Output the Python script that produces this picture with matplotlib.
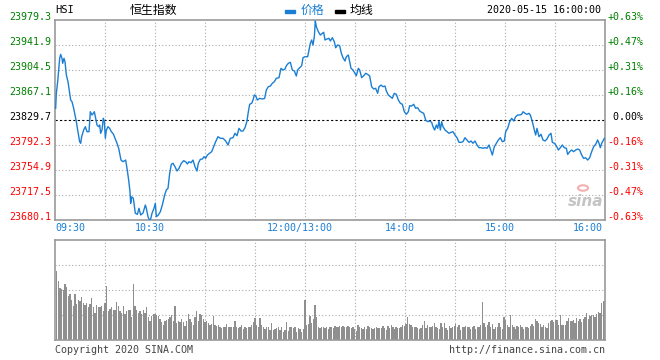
import numpy as np
import matplotlib
matplotlib.use('Agg')
import matplotlib.pyplot as plt
from matplotlib.patches import Rectangle, Circle
from matplotlib.transforms import offset_copy

plt.rcParams['font.family'] = ['DejaVu Sans Mono', 'Noto Sans CJK SC']
CJK = ['Noto Sans CJK SC', 'DejaVu Sans']

# HSI intraday 2020-05-15, minutes since 09:30 (lunch break removed: 150 = 12:00/13:00)
prev_close = 23829.7
minutes = [
    0.4, 0.8, 1.6, 2.2, 2.8, 3.4, 4.2, 4.6, 5.4, 6.0, 6.8, 7.8, 8.8, 9.4, 10.2, 11.2, 12.0, 12.8, 13.6, 14.8,
    15.4, 16.0, 17.2, 18.2, 19.2, 20.4, 21.2, 22.2, 23.0, 23.6, 24.4, 25.2, 26.2, 26.8, 27.4, 28.2, 29.0, 29.6, 30.2, 30.8,
    31.8, 32.8, 33.8, 35.0, 36.0, 37.2, 38.2, 39.0, 39.6, 40.8, 42.4, 43.2, 44.2, 45.0, 45.4, 46.0, 47.0, 48.2, 49.4, 50.4,
    51.4, 52.8, 54.2, 54.8, 55.8, 56.6, 57.4, 58.2, 59.4, 60.2, 60.8, 62.0, 63.2, 64.4, 65.8, 66.8, 67.8, 68.8, 69.8, 70.8,
    72.0, 73.2, 74.4, 75.8, 77.2, 78.4, 79.4, 80.4, 81.6, 82.8, 84.0, 85.2, 86.0, 87.2, 88.4, 89.4, 90.4, 91.4, 92.8, 94.0,
    95.2, 96.4, 97.8, 99.2, 100.8, 102.4, 103.8, 105.2, 106.8, 108.0, 109.2, 110.4, 111.6, 112.8, 114.0, 115.2, 116.0, 116.8, 118.0, 118.8,
    119.6, 120.4, 121.4, 122.8, 124.4, 125.8, 126.8, 128.0, 129.2, 130.4, 131.6, 132.8, 134.4, 135.6, 136.8, 138.0, 138.8, 140.0, 141.2, 142.4,
    143.6, 144.8, 145.6, 146.8, 148.0, 148.8, 150.0, 151.6, 152.4, 153.2, 154.0, 154.8, 155.6, 156.2, 156.8, 158.0, 159.2, 160.4, 161.2, 162.0,
    163.2, 164.4, 165.2, 166.4, 167.6, 168.4, 169.6, 170.8, 171.8, 172.8, 174.0, 174.8, 176.0, 176.8, 177.6, 178.8, 180.0, 180.8, 182.0, 182.8,
    184.0, 185.2, 186.4, 187.6, 188.8, 190.0, 191.2, 192.4, 193.6, 194.4, 195.6, 196.8, 198.0, 198.8, 200.0, 201.2, 202.4, 203.6, 204.8, 206.0,
    207.2, 208.4, 209.6, 210.8, 212.0, 212.8, 214.0, 215.2, 216.4, 217.6, 218.8, 220.0, 221.2, 222.4, 223.6, 224.8, 226.0, 226.8, 227.8, 228.8,
    229.6, 230.4, 231.2, 232.0, 232.8, 234.0, 235.2, 236.4, 237.6, 238.8, 240.0, 241.2, 242.4, 243.6, 244.8, 246.0, 247.2, 248.4, 249.6, 250.8,
    252.0, 253.2, 254.4, 255.6, 256.8, 258.0, 259.2, 260.4, 261.6, 262.4, 263.6, 264.8, 266.0, 267.2, 268.4, 269.6, 270.4, 271.6, 272.8, 274.0,
    275.2, 276.4, 277.6, 278.8, 280.0, 280.8, 282.0, 283.2, 284.4, 285.2, 286.4, 287.6, 288.4, 289.2, 290.4, 291.6, 292.8, 294.0, 295.2, 296.4,
    297.6, 298.4, 299.6, 300.8, 302.0, 303.2, 304.4, 305.6, 306.8, 307.6, 308.8, 310.0, 311.2, 312.4, 313.6, 314.8, 316.0, 317.2, 318.4, 319.6,
    320.8, 322.0, 323.2, 324.4, 325.6, 326.4, 327.2, 328.0, 328.8, 329.6,
]
price = [
    23847.2, 23869.6, 23887.0, 23904.5, 23921.9, 23927.9, 23921.9, 23914.5, 23921.9, 23916.9, 23897.0, 23887.0, 23869.6, 23859.6, 23857.1, 23847.2, 23837.2, 23827.2, 23814.7, 23797.3,
    23794.9, 23804.7, 23814.7, 23819.7, 23812.2, 23812.2, 23842.1, 23837.2, 23839.7, 23842.1, 23832.2, 23822.2, 23819.7, 23822.2, 23809.8, 23814.7, 23832.2, 23828.2, 23802.3, 23814.7,
    23819.7, 23817.2, 23812.2, 23808.7, 23802.3, 23794.9, 23787.4, 23777.3, 23769.8, 23767.3, 23769.8, 23757.4, 23739.9, 23722.4, 23705.1, 23714.9, 23712.5, 23690.1, 23688.6, 23697.6,
    23687.6, 23690.5, 23702.5, 23697.6, 23685.0, 23680.1, 23681.6, 23690.1, 23697.6, 23705.1, 23685.0, 23687.6, 23692.5, 23702.5, 23717.5, 23725.0, 23727.5, 23749.9, 23763.4, 23764.9,
    23759.8, 23753.4, 23757.4, 23764.9, 23768.8, 23767.3, 23763.9, 23767.3, 23765.8, 23769.8, 23759.8, 23753.4, 23764.9, 23770.9, 23771.3, 23774.8, 23772.4, 23777.3, 23779.9, 23782.3,
    23789.7, 23797.3, 23804.7, 23802.3, 23802.3, 23798.3, 23792.3, 23802.3, 23803.2, 23809.8, 23806.2, 23817.2, 23813.2, 23813.2, 23818.2, 23828.2, 23842.1, 23853.2, 23854.7, 23859.6,
    23867.1, 23866.0, 23859.6, 23862.1, 23861.1, 23862.1, 23874.6, 23879.5, 23880.5, 23884.6, 23887.0, 23892.1, 23893.0, 23907.0, 23904.5, 23906.0, 23910.9, 23914.5, 23916.0, 23904.5,
    23903.0, 23895.5, 23904.5, 23907.9, 23910.9, 23922.9, 23924.4, 23924.4, 23934.4, 23944.4, 23949.4, 23941.9, 23954.3, 23977.8, 23969.3, 23961.8, 23956.8, 23959.4, 23960.9, 23949.4,
    23950.9, 23951.9, 23947.9, 23952.8, 23946.8, 23937.8, 23941.9, 23940.8, 23929.5, 23922.9, 23917.9, 23924.4, 23926.9, 23916.9, 23907.0, 23904.5, 23899.5, 23895.9, 23907.0, 23904.5,
    23893.0, 23895.9, 23899.5, 23898.0, 23895.5, 23879.5, 23876.1, 23877.1, 23869.6, 23879.5, 23882.0, 23879.5, 23880.5, 23873.1, 23867.1, 23864.5, 23862.1, 23869.6, 23868.1, 23859.6,
    23854.7, 23853.2, 23842.1, 23838.2, 23842.1, 23851.1, 23850.6, 23853.2, 23847.2, 23848.1, 23843.1, 23841.2, 23839.7, 23829.7, 23827.2, 23828.2, 23826.2, 23819.7, 23814.7, 23822.2,
    23817.2, 23828.2, 23814.7, 23827.2, 23819.7, 23814.7, 23812.2, 23809.8, 23811.3, 23812.2, 23807.2, 23803.2, 23796.3, 23796.3, 23797.3, 23803.2, 23799.8, 23796.3, 23798.3, 23794.9,
    23798.3, 23792.3, 23788.3, 23788.3, 23787.4, 23788.3, 23787.4, 23792.3, 23783.3, 23777.3, 23789.7, 23794.9, 23799.8, 23803.2, 23797.3, 23798.3, 23812.2, 23817.2, 23827.2, 23832.2,
    23828.2, 23834.6, 23837.2, 23837.2, 23838.2, 23842.1, 23839.7, 23838.2, 23839.7, 23837.2, 23827.2, 23814.7, 23807.2, 23817.2, 23804.7, 23808.3, 23799.8, 23798.3, 23801.3, 23807.2,
    23809.8, 23796.3, 23794.9, 23791.2, 23784.8, 23788.3, 23792.3, 23788.3, 23787.4, 23778.3, 23782.3, 23784.8, 23782.3, 23784.8, 23786.3, 23784.8, 23777.3, 23772.3, 23773.2, 23769.8,
    23773.2, 23782.3, 23789.7, 23793.3, 23799.8, 23794.9, 23788.3, 23794.9, 23798.3, 23802.3,
]

# per-minute volume (relative units, 100 = panel top)
vol_am = [
    69, 59, 52, 51, 50, 56, 53, 44, 46, 40, 34, 46, 36, 40, 39, 43, 37, 35, 37, 33, 36, 42, 33, 27, 35, 33, 33, 34, 29, 37,
    54, 29, 31, 33, 30, 30, 38, 34, 29, 27, 34, 26, 29, 30, 30, 23, 56, 34, 30, 27, 29, 26, 30, 27, 33, 23, 19, 24, 26, 26,
    25, 24, 21, 18, 15, 19, 20, 21, 23, 25, 19, 34, 17, 19, 18, 21, 18, 14, 19, 26, 21, 18, 15, 23, 29, 19, 26, 25, 21, 18,
    19, 17, 15, 16, 24, 15, 14, 15, 13, 12, 13, 13, 16, 13, 13, 13, 13, 19, 13, 12, 13, 15, 11, 13, 12, 13, 13, 15, 18, 22,
    15, 13, 22, 15, 13, 11, 13, 13, 10, 17, 10, 11, 12, 13, 10, 13, 8, 10, 18, 9, 13, 13, 12, 13, 8, 12, 11, 8, 11,
]
vol_pm = [
    40, 15, 16, 24, 17, 21, 35, 23, 13, 12, 13, 13, 12, 13, 11,
    13, 13, 12, 14, 13, 13, 14, 13, 14, 13, 13, 14, 13, 12, 13, 11, 9, 15, 13, 12, 11, 13, 11, 14, 13, 12, 11, 12, 13, 12,
    12, 12, 14, 12, 10, 14, 12, 15, 13, 11, 13, 12, 12, 13, 15, 14, 16, 23, 16, 15, 13, 13, 13, 12, 11, 12, 15, 19, 12, 15,
    13, 13, 14, 17, 13, 12, 11, 17, 13, 17, 12, 10, 14, 12, 13, 14, 16, 13, 15, 10, 13, 13, 14, 13, 13, 11, 13, 14, 11, 13,
    13, 15, 38, 17, 13, 15, 18, 13, 16, 11, 13, 13, 17, 13, 11, 23, 20, 15, 13, 25, 15, 13, 11, 14, 13, 15, 13, 11, 13, 13,
    12, 14, 16, 14, 21, 19, 17, 16, 13, 15, 13, 12, 17, 19, 20, 18, 20, 20, 15, 25, 15, 15, 15, 19, 22, 19, 19, 20, 17, 22,
    19, 21, 18, 21, 23, 27, 21, 24, 25, 25, 23, 26, 28, 27, 37, 39, 39,
]

price_ticks = [23680.1, 23717.5, 23754.9, 23792.3, 23829.7, 23867.1, 23904.5, 23941.9, 23979.3]
pct_labels = ['-0.63%', '-0.47%', '-0.31%', '-0.16%', ' 0.00%', '+0.16%', '+0.31%', '+0.47%', '+0.63%']
time_ticks = [0, 60, 150, 210, 270, 330]
time_labels = ['09:30', '10:30', '12:00/13:00', '14:00', '15:00', '16:00']

BLUE = '#1a7fd4'
GRID = '#aaaaaa'
EDGE = '#999999'
W, H = 660, 360

fig = plt.figure(figsize=(W / 100, H / 100), dpi=100)
ax = fig.add_axes([55 / W, 140 / H, 550 / W, 200 / H])
axv = fig.add_axes([55 / W, 20 / H, 550 / W, 100 / H])

for a in (ax, axv):
    a.set_xlim(0, 330)
    a.set_xticks([])
    a.set_yticks([])
    for s in a.spines.values():
        s.set_color(EDGE)
        s.set_linewidth(1.2)
    for m in range(30, 330, 30):
        a.axvline(m, color=GRID, lw=0.8, ls=(0, (1, 2)), zorder=0)

ax.set_ylim(price_ticks[0], price_ticks[-1])
for v in price_ticks[1:-1]:
    if v == prev_close:
        ax.axhline(v, color='black', lw=0.8, ls=(0, (2, 2)), zorder=1)
    else:
        ax.axhline(v, color=GRID, lw=0.8, ls=(0, (1, 2)), zorder=0)

ax.plot(minutes, price, color=BLUE, lw=1.0, zorder=3)

# y labels both sides
ytr = offset_copy(ax.get_yaxis_transform(), fig=fig, x=0, y=3, units='dots')
for v, p in zip(price_ticks, pct_labels):
    c = 'black' if v == prev_close else ('#008000' if v > prev_close else '#ff0000')
    ax.text(-0.006, v, f'{v:.1f}', transform=ytr, ha='right', va='center', fontsize=7.2, color=c)
    ax.text(1.004, v, p, transform=ytr, ha='left', va='center', fontsize=7.2, color=c)

# time labels
for t, lab in zip(time_ticks, time_labels):
    ha = 'left' if t == 0 else ('right' if t == 330 else 'center')
    dx = 0 if t == 0 else (-2 if t == 330 else -5)
    tr = offset_copy(ax.get_xaxis_transform(), fig=fig, x=dx, y=0, units='dots')
    ax.text(t, -0.038, lab, transform=tr, ha=ha, va='center', fontsize=7.2, color=BLUE)

# volume
axv.set_ylim(0, 100)
for v in (25, 50, 75):
    axv.axhline(v, color=GRID, lw=0.8, ls=(0, (1, 2)), zorder=0)
x_am = np.linspace(1, 149, len(vol_am))
x_pm = np.linspace(150, 330, len(vol_pm))
axv.bar(x_am, vol_am, width=0.8, color='#8f8f8f', zorder=2)
axv.bar(x_pm, vol_pm, width=0.8, color='#8f8f8f', zorder=2)

# header
fig.text(55 / W, 1 - 10 / H, 'HSI', fontsize=7.5, va='center', ha='left')
fig.text(130 / W, 1 - 10 / H, '恒生指数', family=CJK, fontsize=8.6, va='center', ha='left')
fig.patches.append(Rectangle((285 / W, 1 - 12.5 / H), 10 / W, 3 / H, transform=fig.transFigure, color=BLUE))
fig.text(301 / W, 1 - 10 / H, '价格', family=CJK, fontsize=8.6, va='center', ha='left', color=BLUE)
fig.patches.append(Rectangle((335 / W, 1 - 12.5 / H), 10 / W, 3 / H, transform=fig.transFigure, color='black'))
fig.text(350 / W, 1 - 10 / H, '均线', family=CJK, fontsize=8.6, va='center', ha='left')
fig.text(601 / W, 1 - 10 / H, '2020-05-15 16:00:00', fontsize=7.2, va='center', ha='right')

# footer
fig.text(55 / W, 1 - 350 / H, 'Copyright 2020 SINA.COM', fontsize=7.2, va='center', ha='left', color='#444444')
fig.text(605 / W, 1 - 350 / H, 'http://finance.sina.com.cn', fontsize=7.2, va='center', ha='right', color='#444444')

# watermark
fig.patches.append(Circle((583 / W, 1 - 188 / H), 5 / W, transform=fig.transFigure,
                          facecolor='none', edgecolor='#f2b0b0', lw=1.5))
fig.text(586 / W, 1 - 202 / H, 'sina', family='DejaVu Sans', fontsize=11, style='italic',
         weight='bold', color='#c4c4c4', va='center', ha='center')

fig.savefig('out.png', dpi=100)
